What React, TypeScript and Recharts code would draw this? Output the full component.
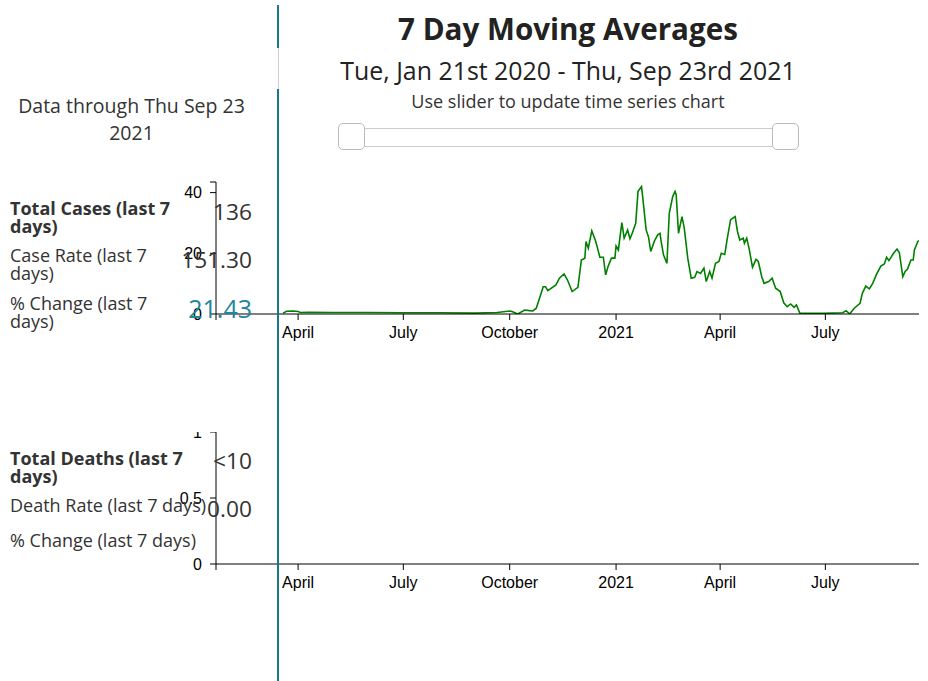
import React from 'react';
import { LineChart, Line, XAxis, YAxis } from 'recharts';

// ---- data ----
const caseDates = [
  '2020-03-19','2020-03-22','2020-03-28','2020-04-01','2020-04-03','2020-04-10','2020-05-01','2020-06-01',
  '2020-07-01','2020-08-01','2020-09-01','2020-09-20','2020-10-01','2020-10-03','2020-10-08','2020-10-14',
  '2020-10-18','2020-10-21','2020-10-24','2020-10-30','2020-11-01','2020-11-03','2020-11-10','2020-11-13',
  '2020-11-17','2020-11-20','2020-11-24','2020-11-29','2020-12-02','2020-12-05','2020-12-06','2020-12-08',
  '2020-12-11','2020-12-14','2020-12-15','2020-12-18','2020-12-21','2020-12-23','2020-12-25','2020-12-28',
  '2020-12-31','2021-01-01','2021-01-03','2021-01-06','2021-01-08','2021-01-11','2021-01-13','2021-01-15',
  '2021-01-18','2021-01-20','2021-01-23','2021-01-24','2021-01-27','2021-01-29','2021-01-31','2021-02-03',
  '2021-02-06','2021-02-08','2021-02-09','2021-02-11','2021-02-14','2021-02-16','2021-02-19','2021-02-21',
  '2021-02-22','2021-02-24','2021-02-27','2021-03-01','2021-03-04','2021-03-07','2021-03-10','2021-03-12',
  '2021-03-15','2021-03-18','2021-03-20','2021-03-23','2021-03-25','2021-03-28','2021-03-31','2021-04-02',
  '2021-04-05','2021-04-07','2021-04-10','2021-04-12','2021-04-14','2021-04-16','2021-04-18','2021-04-21',
  '2021-04-22','2021-04-24','2021-04-26','2021-04-29','2021-05-02','2021-05-04','2021-05-07','2021-05-09',
  '2021-05-13','2021-05-16','2021-05-19','2021-05-23','2021-05-26','2021-05-29','2021-06-01','2021-06-04',
  '2021-06-06','2021-06-09','2021-06-29','2021-07-16','2021-07-19','2021-07-22','2021-07-26','2021-07-31',
  '2021-08-02','2021-08-05','2021-08-08','2021-08-11','2021-08-14','2021-08-18','2021-08-21','2021-08-23',
  '2021-08-25','2021-08-29','2021-09-01','2021-09-03','2021-09-06','2021-09-08','2021-09-10','2021-09-13',
  '2021-09-15','2021-09-16','2021-09-19','2021-09-20',
];
const caseValues = [
  0.3, 0.9, 1.0, 0.8, 0.5, 0.6, 0.5, 0.5,
  0.4, 0.4, 0.3, 0.5, 1.0, 0.8, 0.0, 1.3,
  1.1, 1.0, 1.9, 9.0, 9.0, 7.7, 9.6, 11.8,
  13.2, 11.2, 7.4, 8.8, 17.8, 18.4, 23.9, 21.7,
  27.4, 24.4, 23.1, 18.7, 18.7, 12.9, 15.6, 18.4,
  18.4, 22.4, 21.1, 30.1, 25.0, 27.7, 24.8, 26.6,
  29.9, 40.4, 42.0, 38.7, 27.7, 25.5, 20.6, 23.9,
  26.1, 26.6, 23.9, 19.5, 16.7, 33.2, 38.7, 40.4,
  39.3, 26.6, 32.1, 28.3, 18.4, 11.8, 12.1, 14.0,
  13.4, 15.1, 10.7, 14.0, 11.8, 16.7, 17.3, 20.0,
  19.6, 24.4, 31.0, 31.6, 32.1, 27.2, 24.4, 25.0,
  23.3, 25.0, 21.7, 15.4, 18.0, 17.3, 12.3, 10.1,
  10.7, 11.8, 8.5, 7.4, 3.7, 2.4, 3.3, 2.2,
  3.0, 0.2, 0.2, 0.4, 1.1, 0.0, 1.9, 3.5,
  6.8, 9.2, 8.3, 10.1, 12.9, 15.8, 16.5, 18.7,
  17.6, 20.0, 21.4, 20.2, 12.3, 14.0, 14.7, 17.8,
  17.8, 21.1, 23.9, 24.2,
];
// deaths: suppressed (<10), nothing drawn
const deathDates: string[] = [];
const deathValues: number[] = [];

const xDomainDates = ['2020-01-21', '2021-09-20'];
const xTickDates = ['2020-01-21', '2020-04-01', '2020-07-01', '2020-10-01', '2021-01-01', '2021-04-01', '2021-07-01'];
const xTickLabels = ['', 'April', 'July', 'October', '2021', 'April', 'July'];

const caseYTicks = [0, 20, 40];
const caseYMax = 43.5;
const deathYTicks = [0, 0.5, 1];
const deathYMax = 1;

const summaryCases = { total: '136', rate: '151.30', change: '21.43' };
const summaryDeaths = { total: '<10', rate: '0.00', change: '' };

// ---- derived ----
const toT = (d: string) => Date.parse(d);
const caseRows = caseDates.map((d, i) => ({ t: toT(d), v: caseValues[i] }));
const deathRows = deathDates.map((d, i) => ({ t: toT(d), v: deathValues[i] }));
const xDomain = [toT(xDomainDates[0]), toT(xDomainDates[1])];
const xTicks = xTickDates.map(toT);
const xLabel = (v: number) => {
  const i = xTicks.indexOf(v);
  return i >= 0 ? xTickLabels[i] : '';
};

const tickFont = { fill: '#000', fontSize: 16, fontFamily: '"Liberation Sans", Arial, sans-serif' };
const TEXT = '#333';
const TEAL = '#16798b';

const abs = (s: React.CSSProperties): React.CSSProperties => ({ position: 'absolute', ...s });

function Label({ top, lines, bold, size = 18, lh = 17.5 }: { top: number; lines: string[]; bold?: boolean; size?: number; lh?: number }) {
  return (
    <div style={abs({ left: 10, top, fontSize: size, lineHeight: lh + 'px', fontWeight: bold ? 700 : 400, color: TEXT, whiteSpace: 'nowrap' })}>
      {lines.map((l, i) => (
        <div key={i}>{l}</div>
      ))}
    </div>
  );
}

function Value({ top, text, color = TEXT, size = 22.7 }: { top: number; text: string; color?: string; size?: number }) {
  return (
    <div style={abs({ left: 132, width: 120, top, fontSize: size, lineHeight: '30px', textAlign: 'right', color, whiteSpace: 'nowrap' })}>
      {text}
    </div>
  );
}

export default function App() {
  return (
    <div
      style={{
        position: 'absolute',
        left: 0,
        top: 0,
        width: 928,
        height: 681,
        background: '#fff',
        overflow: 'hidden',
        fontFamily: '"Open Sans", sans-serif',
      }}
    >
      {/* Top chart: cases */}
      <div style={abs({ left: 0, top: 0 })}>
        <LineChart width={928} height={360} data={caseRows} margin={{ top: 182, right: 9, bottom: 16, left: 156 }}>
          <XAxis
            dataKey="t"
            type="number"
            scale="linear"
            domain={xDomain}
            ticks={xTicks}
            interval={0}
            tickFormatter={xLabel}
            tick={tickFont}
            tickSize={6}
            tickMargin={7}
            axisLine={{ stroke: '#000' }}
            tickLine={{ stroke: '#000' }}
            allowDataOverflow
            height={30}
          />
          <YAxis
            type="number"
            domain={[0, caseYMax]}
            ticks={[...caseYTicks, caseYMax]}
            interval={0}
            tickFormatter={(v: number) => (caseYTicks.includes(v) ? String(v) : '')}
            tick={tickFont}
            tickSize={6}
            tickMargin={8}
            axisLine={{ stroke: '#000' }}
            tickLine={{ stroke: '#000' }}
            allowDataOverflow
            width={60}
          />
          <Line dataKey="v" type="linear" stroke="#008000" strokeWidth={1.6} dot={false} isAnimationActive={false} />
        </LineChart>
      </div>

      {/* Bottom chart: deaths */}
      <div style={abs({ left: 0, top: 432 })}>
        <LineChart width={928} height={200} data={deathRows} margin={{ top: 0, right: 9, bottom: 38, left: 156 }}>
          <XAxis
            dataKey="t"
            type="number"
            scale="linear"
            domain={xDomain}
            ticks={xTicks}
            interval={0}
            tickFormatter={xLabel}
            tick={tickFont}
            tickSize={6}
            tickMargin={7}
            axisLine={{ stroke: '#000' }}
            tickLine={{ stroke: '#000' }}
            allowDataOverflow
            height={30}
          />
          <YAxis
            type="number"
            domain={[0, deathYMax]}
            ticks={deathYTicks}
            interval={0}
            tickFormatter={(v: number) => String(v)}
            tick={tickFont}
            tickSize={6}
            tickMargin={8}
            axisLine={{ stroke: '#000' }}
            tickLine={{ stroke: '#000' }}
            allowDataOverflow
            width={60}
          />
          <Line dataKey="v" type="linear" stroke="#008000" strokeWidth={1.6} dot={false} isAnimationActive={false} />
        </LineChart>
      </div>

      {/* Header */}
      <div style={abs({ left: 268, width: 600, top: 11, textAlign: 'center', fontSize: 29.6, lineHeight: '36px', fontWeight: 700, color: '#222', whiteSpace: 'nowrap' })}>
        7 Day Moving Averages
      </div>
      <div style={abs({ left: 268, width: 600, top: 55, textAlign: 'center', fontSize: 24.9, lineHeight: '30px', color: '#222', whiteSpace: 'nowrap' })}>
        Tue, Jan 21st 2020 - Thu, Sep 23rd 2021
      </div>
      <div style={abs({ left: 268, width: 600, top: 90, textAlign: 'center', fontSize: 18, lineHeight: '22px', color: TEXT, whiteSpace: 'nowrap' })}>
        Use slider to update time series chart
      </div>

      {/* Slider */}
      <div style={abs({ left: 340, top: 128, width: 456, height: 17, border: '1px solid #ccc', borderRadius: 3, background: '#fff' })} />
      <div style={abs({ left: 338, top: 123, width: 25, height: 25, border: '1px solid #bbb', borderRadius: 5, background: '#fff' })} />
      <div style={abs({ left: 772, top: 123, width: 25, height: 25, border: '1px solid #bbb', borderRadius: 5, background: '#fff' })} />

      {/* Left panel */}
      <div style={abs({ left: 0, width: 263, top: 92, textAlign: 'center', fontSize: 19.5, lineHeight: '27px', color: TEXT, whiteSpace: 'nowrap' })}>
        <div>Data through Thu Sep 23</div>
        <div>2021</div>
      </div>

      <Label top={200} lines={['Total Cases (last 7', 'days)']} bold />
      <Label top={247} lines={['Case Rate (last 7', 'days)']} />
      <Label top={295} lines={['% Change (last 7', 'days)']} />
      <Value top={197} text={summaryCases.total} />
      <Value top={245} text={summaryCases.rate} />
      <Value top={293} text={summaryCases.change} color="#22859b" size={25} />

      <Label top={450} lines={['Total Deaths (last 7', 'days)']} bold />
      <Label top={497} lines={['Death Rate (last 7 days)']} />
      <Label top={532} lines={['% Change (last 7 days)']} />
      <Value top={446} text={summaryDeaths.total} />
      <Value top={494} text={summaryDeaths.rate} />
      {summaryDeaths.change ? <Value top={529} text={summaryDeaths.change} /> : null}

      {/* Vertical divider */}
      <div style={abs({ left: 277, top: 5, width: 2, height: 43, background: TEAL })} />
      <div style={abs({ left: 278, top: 48, width: 1, height: 41, background: '#d0d0d0' })} />
      <div style={abs({ left: 277, top: 89, width: 2, height: 592, background: TEAL })} />
    </div>
  );
}
